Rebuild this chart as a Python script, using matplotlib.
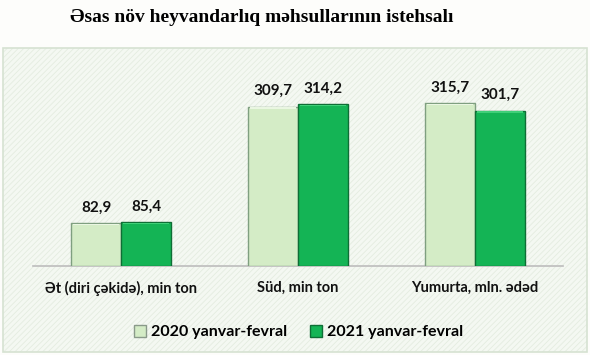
import matplotlib
matplotlib.use("Agg")
import matplotlib.pyplot as plt
from matplotlib.patches import Patch, Rectangle
import numpy as np

title = "Əsas növ heyvandarlıq məhsullarının istehsalı"
categories = ["Ət (diri çəkidə), min ton", "Süd, min ton", "Yumurta, mln. ədəd"]
series_names = ["2020 yanvar-fevral", "2021 yanvar-fevral"]
values_2020 = [82.9, 309.7, 315.7]
values_2021 = [85.4, 314.2, 301.7]

light_face = "#d4ecc6"
light_edge = "#7f9f80"
dark_face = "#14b455"
dark_edge = "#0e6e35"

plt.rcParams["hatch.linewidth"] = 0.6

fig = plt.figure(figsize=(5.9, 3.55), dpi=100)
fig.patch.set_facecolor("#fdfdfb")

W, H = 590, 355
panel = Rectangle((3 / W, 3 / H), 584 / W, 304 / H,
                  transform=fig.transFigure, facecolor="#f4f8f2",
                  edgecolor="#e4ece0", hatch="//////", lw=0, zorder=-2)
fig.patches.append(panel)
border = Rectangle((3 / W, 3 / H), 584 / W, 304 / H,
                   transform=fig.transFigure, facecolor="none",
                   edgecolor="#d6e2d2", lw=1.2, zorder=-1)
fig.patches.append(border)

fig.text(0.443, 1 - 18 / H, title, ha="center", va="center",
         fontsize=14, fontweight="bold", family="Liberation Serif")

ax = fig.add_axes([33 / W, 89 / H, 530 / W, 206 / H])
ax.set_facecolor("none")
ax.set_zorder(2)
x = np.arange(len(categories))
w = 0.283
b1 = ax.bar(x - w / 2, values_2020, w, color=light_face, edgecolor=light_edge, linewidth=1.0, zorder=3)
b2 = ax.bar(x + w / 2, values_2021, w, color=dark_face, edgecolor=dark_edge, linewidth=1.0, zorder=3)

for bars, hl in ((b1, "#eaf6e2"), (b2, "#3fcf78")):
    for r in bars:
        ax.add_patch(Rectangle((r.get_x() + 0.012, r.get_height() - 4), r.get_width() - 0.024, 3,
                               facecolor=hl, edgecolor="none", zorder=4))

for xs, vals in ((x - w / 2, values_2020), (x + w / 2, values_2021)):
    for xi, v in zip(xs, vals):
        ax.annotate(f"{v:.1f}".replace(".", ","), (xi, v), xytext=(0, 6),
                    textcoords="offset points", ha="center", va="bottom",
                    fontsize=11, fontweight="bold", family="Lato", color="#111111")

ax.set_xlim(-0.5, 2.5)
ax.set_ylim(0, 400)
ax.set_yticks([])
ax.set_xticks(x)
ax.set_xticklabels(categories, fontsize=10.5, fontweight="bold", family="Lato", color="#111111")
ax.tick_params(axis="x", length=0, pad=11)
for s in ("top", "right", "left"):
    ax.spines[s].set_visible(False)
ax.spines["bottom"].set_color("#bdbdbd")
ax.spines["bottom"].set_linewidth(1.2)

handles = [Patch(facecolor=light_face, edgecolor="#8a9a8a", label=series_names[0]),
           Patch(facecolor=dark_face, edgecolor=dark_edge, label=series_names[1])]
fig.legend(handles=handles, loc="center", bbox_to_anchor=(0.506, 1 - 332 / H), ncol=2,
           frameon=False, prop={"family": "Lato", "weight": "bold", "size": 11.5},
           handlelength=0.8, handleheight=0.8, handletextpad=0.3, columnspacing=1.4)

fig.savefig("out.png", dpi=100, facecolor=fig.get_facecolor())
